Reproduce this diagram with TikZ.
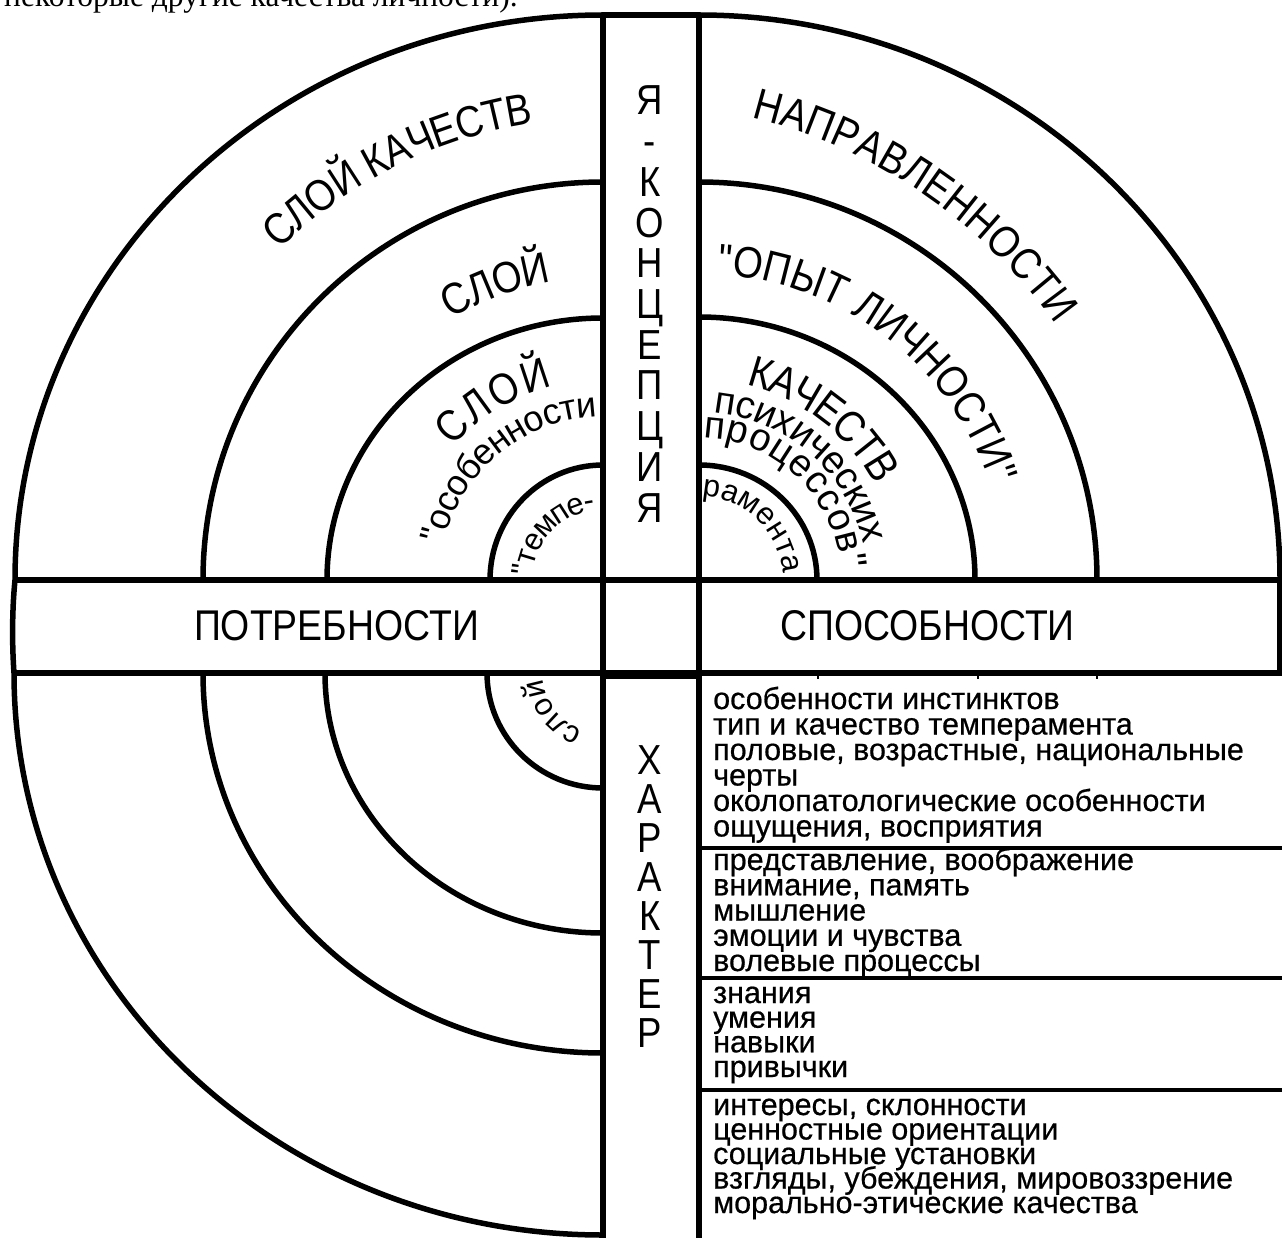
\documentclass[tikz,border=0pt]{standalone}
\usepackage{fontspec}
\usetikzlibrary{decorations.text}
\newfontfamily\capsf[FakeStretch=0.87]{Liberation Sans}
\newfontfamily\lowf{Liberation Sans}
\newfontfamily\tabf[FakeBold=0.6]{Liberation Sans}
\newfontfamily\serf{Liberation Serif}
\newcommand{\bigcapsfont}{\capsf\fontsize{44}{44}\selectfont}
\newcommand{\midlowfont}{\lowf\fontsize{36}{36}\selectfont}
\newcommand{\psyfont}{\lowf\fontsize{38.5}{38.5}\selectfont}
\newcommand{\smalllowfont}{\lowf\fontsize{31}{31}\selectfont}
\tikzset{
  mainline/.style={line width=5.5pt},
  tabline/.style={line width=3.5pt},
  curvtext/.style={decorate, decoration={text along path, text align={fit to path}}},
  colletter/.style={anchor=base, inner sep=0pt, font=\capsf\fontsize{42}{42}\selectfont},
  hlabel/.style={anchor=base, inner sep=0pt, font=\capsf\fontsize{43}{43}\selectfont},
  tabtext/.style={anchor=base west, inner sep=0pt, font=\tabf\fontsize{30.5}{30.5}\selectfont},
}
\begin{document}
\begin{tikzpicture}[x=1pt,y=1pt]
\useasboundingbox (0,0) rectangle (1282,-1238);
\clip (0,0) rectangle (1282,-1238);
\fill[white] (0,0) rectangle (1282,-1238);
% cut-off text line at the top
\node[anchor=base west, inner sep=0pt, font=\serf\fontsize{31.5}{31.5}\selectfont] (toptext) at (4,-6.5) {некоторые другие качества личности).};

\coordinate (C1) at (603,-580);
\coordinate (C2) at (699,-580);
\coordinate (C3) at (603,-673);
\coordinate (OB) at (624.7,-630.2);

% upper-left arcs
\draw[mainline] (490,-580) arc[start angle=180,end angle=90,x radius=113pt,y radius=115pt];
\draw[mainline] (327,-580) arc[start angle=180,end angle=90,x radius=276pt,y radius=262pt];
\draw[mainline] (203,-580) arc[start angle=180,end angle=90,x radius=400pt,y radius=398pt];
\draw[mainline] (15,-580) arc[start angle=180,end angle=90,x radius=588pt,y radius=565pt];
% upper-right arcs
\draw[mainline] (699,-465) arc[start angle=90,end angle=0,x radius=118pt,y radius=115pt];
\draw[mainline] (699,-317) arc[start angle=90,end angle=0,x radius=276pt,y radius=263pt];
\draw[mainline] (699,-182) arc[start angle=90,end angle=0,x radius=398pt,y radius=398pt];
\draw[mainline] (699,-15) arc[start angle=90,end angle=0,x radius=581pt,y radius=565pt];
% lower-left arcs
\draw[mainline] (487,-673) arc[start angle=180,end angle=270,x radius=116pt,y radius=115pt];
\draw[mainline] (325,-673) arc[start angle=180,end angle=270,x radius=278pt,y radius=260pt];
\draw[mainline] (203,-673) arc[start angle=180,end angle=270,x radius=400pt,y radius=380pt];
\draw[mainline] (14,-673) arc[start angle=180,end angle=270,x radius=589pt,y radius=562pt];

% straight frame lines
\draw[mainline] (603,-15) -- (603,-1245);
\draw[mainline] (699,-15) -- (699,-1245);
\draw[mainline] (603,-15) -- (699,-15);
\draw[mainline] (14,-580) -- (1280,-580);
\draw[mainline] (14,-673) -- (1290,-673);
\draw[mainline] (15,-580) .. controls (12,-610) and (12,-645) .. (14,-673);
\draw[mainline] (1280,-580) -- (1280,-673);
\draw[line width=4pt] (603,-677) -- (699,-677);
\foreach \tx in {818,978,1097} \draw[line width=2.5pt] (\tx,-673) -- (\tx,-679);
% table rows
\draw[tabline] (699,-848) -- (1290,-848);
\draw[tabline] (699,-978) -- (1290,-978);
\draw[tabline] (699,-1090) -- (1290,-1090);

% horizontal labels
\node[hlabel] (potr) at (336.5,-640) {ПОТРЕБНОСТИ};
\node[hlabel] (spos) at (927.5,-640) {СПОСОБНОСТИ};

% vertical columns
\foreach \ch [count=\i] in {Я,-,К,О,Н,Ц,Е,П,Ц,И,Я}
  \node[colletter] (jk\i) at (650,{-115-(\i-1)*40.7}) {\ch};
\foreach \ch [count=\i] in {Х,А,Р,А,К,Т,Е,Р}
  \node[colletter] (har\i) at (650,{-774-(\i-1)*39.1}) {\ch};

% curved texts
\path[curvtext, decoration={raise=-15.7pt, text={|\bigcapsfont|СЛОЙ КАЧЕСТВ}}]
  ([shift={(134.4:478pt)}]C1) arc[start angle=134.4, end angle=98.7, radius=478pt];
\path[curvtext, decoration={raise=-15.7pt, text={|\bigcapsfont|НАПРАВЛЕННОСТИ}}]
  ([shift={(76.1:544pt)}]OB) arc[start angle=76.1, end angle=35.4, radius=544pt];
\path[curvtext, decoration={raise=-15.7pt, text={|\bigcapsfont|СЛОЙ}}]
  ([shift={(120.1:318pt)}]C1) arc[start angle=120.1, end angle=99.9, radius=318pt];
\path[curvtext, decoration={raise=-15.7pt, text={|\bigcapsfont|"ОПЫТ ЛИЧНОСТИ"}}]
  ([shift={(86.4:322pt)}]C2) arc[start angle=86.4, end angle=18.1, radius=322pt];
\path[curvtext, decoration={raise=-15.7pt, text={|\bigcapsfont|СЛОЙ}}]
  ([shift={(138.2:216pt)}]C1) arc[start angle=138.2, end angle=104.7, radius=216pt];
\path[curvtext, decoration={raise=-9pt, text={|\midlowfont|"особенности}}]
  ([shift={(167.3:172pt)}]C1) arc[start angle=167.3, end angle=92.4, radius=172pt];
\path[curvtext, decoration={raise=-7.8pt, text={|\smalllowfont|"темпе-}}]
  ([shift={(176.6:78pt)}]C1) arc[start angle=176.6, end angle=96, radius=78pt];
\path[curvtext, decoration={raise=-15.7pt, text={|\bigcapsfont|КАЧЕСТВ}}]
  ([shift={(76.2:216pt)}]C2) arc[start angle=76.2, end angle=28.5, radius=216pt];
\path[curvtext, decoration={raise=-10pt, text={|\psyfont|психических}}]
  ([shift={(84.7:178pt)}]C2) arc[start angle=84.7, end angle=12.5, radius=178pt];
\path[curvtext, decoration={raise=-10pt, text={|\psyfont|процессов"}}]
  ([shift={(88:152pt)}]C2) arc[start angle=88, end angle=4.5, radius=152pt];
\path[curvtext, decoration={raise=-8pt, text={|\smalllowfont|рамента}}]
  ([shift={(87.5:92pt)}]C2) arc[start angle=87.5, end angle=4.8, radius=92pt];
\path[curvtext, decoration={raise=-8pt, text={|\smalllowfont|слой}}]
  ([shift={(249.7:68pt)}]C3) arc[start angle=249.7, end angle=186.4, radius=68pt];

% table text
\node[tabtext] (r1a) at (713,-709) {особенности инстинктов};
\node[tabtext] (r1b) at (713,-734.5) {тип и качество темперамента};
\node[tabtext] (r1c) at (713,-760) {половые, возрастные, национальные};
\node[tabtext] (r1d) at (713,-785.5) {черты};
\node[tabtext] (r1e) at (713,-811) {околопатологические особенности};
\node[tabtext] (r1f) at (713,-836.5) {ощущения, восприятия};
\node[tabtext] (r2a) at (713,-870) {представление, воображение};
\node[tabtext] (r2b) at (713,-895.3) {внимание, память};
\node[tabtext] (r2c) at (713,-920.5) {мышление};
\node[tabtext] (r2d) at (713,-945.8) {эмоции и чувства};
\node[tabtext] (r2e) at (713,-971) {волевые процессы};
\node[tabtext] (r3a) at (713,-1003) {знания};
\node[tabtext] (r3b) at (713,-1027.7) {умения};
\node[tabtext] (r3c) at (713,-1052.3) {навыки};
\node[tabtext] (r3d) at (713,-1077) {привычки};
\node[tabtext] (r4a) at (713,-1115) {интересы, склонности};
\node[tabtext] (r4b) at (713,-1139.5) {ценностные ориентации};
\node[tabtext] (r4c) at (713,-1164) {социальные установки};
\node[tabtext] (r4d) at (713,-1188.5) {взгляды, убеждения, мировоззрение};
\node[tabtext] (r4e) at (713,-1213) {морально-этические качества};
\end{tikzpicture}
\end{document}
